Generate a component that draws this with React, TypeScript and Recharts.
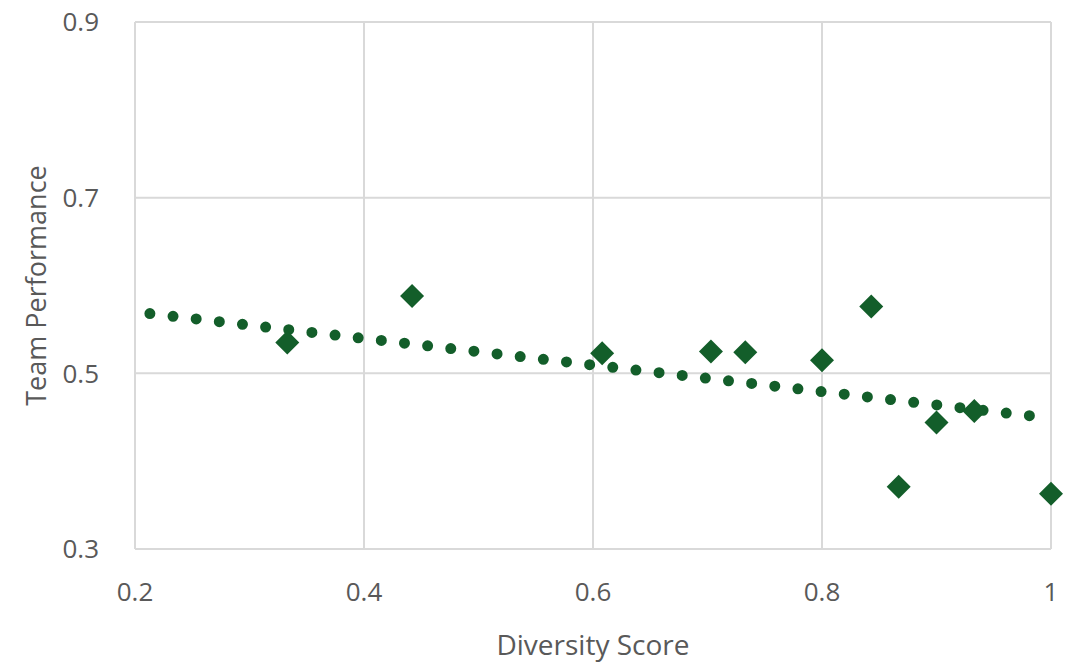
import React from "react";
import {
  CartesianGrid,
  Scatter,
  ScatterChart,
  XAxis,
  YAxis,
} from "recharts";

// team diversity vs. performance observations
const diversityScores = [0.333, 0.442, 0.608, 0.703, 0.733, 0.8, 0.843, 0.867, 0.9, 0.933, 1.0];
const performanceScores = [0.535, 0.588, 0.523, 0.525, 0.524, 0.515, 0.576, 0.371, 0.444, 0.457, 0.363];

// linear trend endpoints
const trendX = [0.213, 0.986];
const trendY = [0.568, 0.451];

const xTicks = [0.2, 0.4, 0.6, 0.8, 1];
const yTicks = [0.3, 0.5, 0.7, 0.9];

const GREEN = "#135e2a";
const TEXT = "#595959";
const GRID = "#d9d9d9";
const FONT = "'Open Sans', 'Noto Sans', sans-serif";

const points = diversityScores.map((x, i) => ({ x, y: performanceScores[i] }));
const trend = trendX.map((x, i) => ({ x, y: trendY[i] }));

const Diamond = (props: any) => {
  const { cx, cy } = props;
  const r = 12;
  return (
    <polygon
      points={`${cx},${cy - r} ${cx + r},${cy} ${cx},${cy + r} ${cx - r},${cy}`}
      fill={GREEN}
    />
  );
};

const fmt = (v: number) => (v === 1 ? "1" : String(v));

export default function App() {
  return (
    <div style={{ position: "absolute", left: 0, top: 0, background: "#fff", fontFamily: FONT }}>
      <ScatterChart
        width={1068}
        height={662}
        margin={{ top: 22, right: 17, bottom: 13, left: 0 }}
      >
        <CartesianGrid stroke={GRID} strokeWidth={2} />
        <XAxis
          type="number"
          dataKey="x"
          domain={[0.2, 1]}
          ticks={xTicks}
          tickFormatter={fmt}
          height={100}
          axisLine={{ stroke: GRID, strokeWidth: 2 }}
          tickLine={false}
          tickMargin={28}
          tick={{ fill: TEXT, fontSize: 26, fontFamily: FONT }}
          label={{
            value: "Diversity Score",
            position: "insideBottom",
            offset: -6,
            fill: TEXT,
            fontSize: 28,
            fontFamily: FONT,
          }}
        />
        <YAxis
          type="number"
          dataKey="y"
          domain={[0.3, 0.9]}
          ticks={yTicks}
          width={135}
          axisLine={{ stroke: GRID, strokeWidth: 2 }}
          tickLine={false}
          tickMargin={30}
          tick={{ fill: TEXT, fontSize: 26, fontFamily: FONT }}
          label={{
            value: "Team Performance",
            angle: -90,
            position: "insideLeft",
            offset: 36,
            fill: TEXT,
            fontSize: 27,
            fontFamily: FONT,
            style: { textAnchor: "middle" },
          }}
        />
        <Scatter
          data={trend}
          line={{
            stroke: GREEN,
            strokeWidth: 11,
            strokeDasharray: "0 23.3",
            strokeLinecap: "round",
          }}
          shape={() => <g />}
          isAnimationActive={false}
        />
        <Scatter data={points} shape={<Diamond />} isAnimationActive={false} />
      </ScatterChart>
    </div>
  );
}
